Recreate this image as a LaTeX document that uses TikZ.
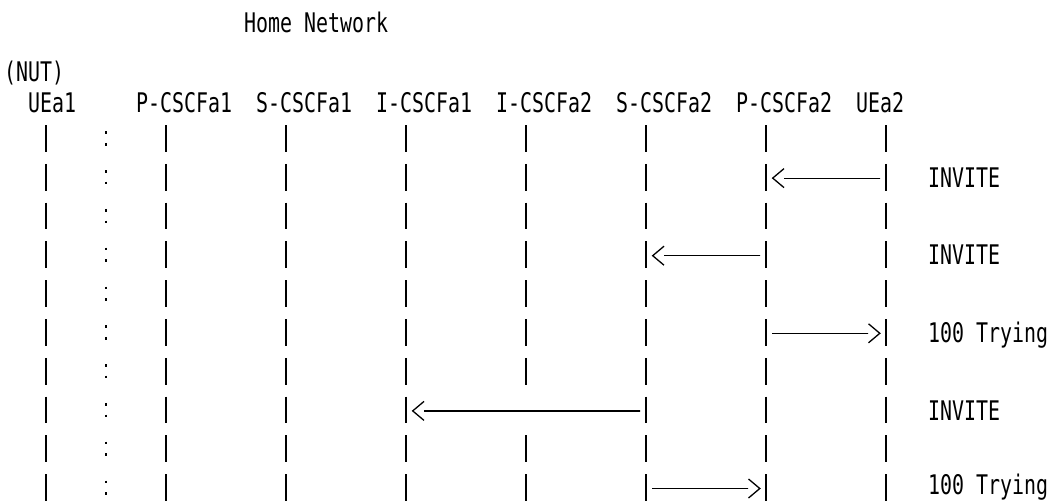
\documentclass[tikz,border=0pt]{standalone}
\usepackage{fontspec}
\usetikzlibrary{calc}
\newfontfamily\monof[FakeStretch=0.738]{DejaVu Sans Mono}
\newcommand\msgleft[3]{% #1 target lifeline, #2 source lifeline, #3 row
  \draw[msgline] ($(#1t|-#3)+(18,0)$) -- ($(#2t|-#3)+(-6,0)$);
  \draw[chev] ($(#1t|-#3)+(18,-9.5)$) -- ($(#1t|-#3)+(6.7,0)$) -- ($(#1t|-#3)+(18,9.5)$);}
\newcommand\msgright[3]{% #1 source lifeline, #2 target lifeline, #3 row
  \draw[msgline] ($(#1t|-#3)+(6,0)$) -- ($(#2t|-#3)+(-18,0)$);
  \draw[chev] ($(#2t|-#3)+(-17.5,-9.5)$) -- ($(#2t|-#3)+(-6.2,0)$) -- ($(#2t|-#3)+(-17.5,9.5)$);}
\begin{document}
\begin{tikzpicture}[x=1pt,y=-1pt,
  lbl/.style={anchor=base west,inner sep=0pt,font=\monof\fontsize{27}{27}\selectfont},
  lifeline/.style={line width=1.8pt,dash pattern=on 26.8pt off 12pt},
  colons/.style={line width=2.7pt,dash pattern=on 2.7pt off 8.9pt on 2.7pt off 24.5pt},
  msgline/.style={line width=1.2pt,dash pattern=on 11.6pt off 0.4pt},
  chev/.style={line width=1.3pt,miter limit=10}]
\useasboundingbox (0,0) rectangle (1054,501);
% header texts
\node[lbl] (home) at (244,32) {Home Network};
\node[lbl] (nut) at (4,81) {(NUT)};
\node[lbl] (ue1) at (28,112) {UEa1};
\node[lbl] (pc1) at (136,112) {P-CSCFa1};
\node[lbl] (sc1) at (256,112) {S-CSCFa1};
\node[lbl] (ic1) at (376,112) {I-CSCFa1};
\node[lbl] (ic2) at (496,112) {I-CSCFa2};
\node[lbl] (sc2) at (616,112) {S-CSCFa2};
\node[lbl] (pc2) at (736,112) {P-CSCFa2};
\node[lbl] (ue2) at (856,112) {UEa2};
% lifelines
\foreach \n/\x in {ue1/46,pc1/166,sc1/286,ic1/406,ic2/526,sc2/646,pc2/766,ue2/886}{
  \coordinate (\n t) at (\x,125);
  \coordinate (\n b) at (\x,501);
  \draw[lifeline] (\n t) -- (\n b);
}
% colon column
\coordinate (colt) at (106,131.3);
\coordinate (colb) at (106,501);
\draw[colons] (colt) -- (colb);
% message rows (arrow heights)
\coordinate (r1) at (0,178.1);
\coordinate (r3) at (0,255.7);
\coordinate (r5) at (0,333.3);
\coordinate (r7) at (0,410.9);
\coordinate (r9) at (0,488.5);
% the long message replaces the I-CSCFa2 bar on its row
\fill[white] ($(ic2t|-r7)+(-3,-16)$) rectangle ($(ic2t|-r7)+(3,16)$);
\msgleft{pc2}{ue2}{r1}
\msgleft{sc2}{pc2}{r3}
\msgright{pc2}{ue2}{r5}
\msgleft{ic1}{sc2}{r7}
\msgright{sc2}{pc2}{r9}
% message labels
\node[lbl] (m1) at (928,187.3) {INVITE};
\node[lbl] (m2) at (928,264.9) {INVITE};
\node[lbl] (m3) at (928,342.5) {100 Trying};
\node[lbl] (m4) at (928,420.1) {INVITE};
\node[lbl] (m5) at (928,494.6) {100 Trying};
\end{tikzpicture}
\end{document}
